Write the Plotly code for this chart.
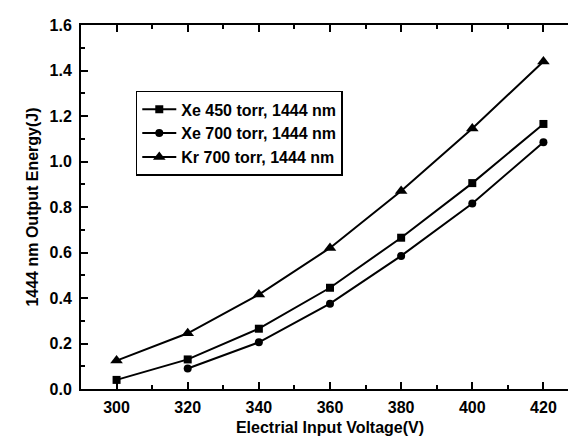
import plotly.graph_objects as go

x_vals = [300, 320, 340, 360, 380, 400, 420]
xe450 = [0.04, 0.13, 0.265, 0.445, 0.665, 0.905, 1.165]
xe700_x = [320, 340, 360, 380, 400, 420]
xe700 = [0.09, 0.205, 0.375, 0.585, 0.815, 1.085]
kr700 = [0.125, 0.245, 0.415, 0.62, 0.87, 1.145, 1.44]

names = ["Xe 450 torr, 1444 nm", "Xe 700 torr, 1444 nm", "Kr 700 torr, 1444 nm"]
xticks = [300, 320, 340, 360, 380, 400, 420]
yticks = [0.0, 0.2, 0.4, 0.6, 0.8, 1.0, 1.2, 1.4, 1.6]

fig = go.Figure()
fig.add_trace(go.Scatter(x=x_vals, y=xe450, name=names[0], mode="lines+markers",
                         line=dict(color="black", width=2),
                         marker=dict(symbol="square", size=8, color="black")))
fig.add_trace(go.Scatter(x=xe700_x, y=xe700, name=names[1], mode="lines+markers",
                         line=dict(color="black", width=2),
                         marker=dict(symbol="circle", size=8, color="black")))
fig.add_trace(go.Scatter(x=x_vals, y=kr700, name=names[2], mode="lines+markers",
                         line=dict(color="black", width=2),
                         marker=dict(symbol="triangle-up", size=11, color="black")))

FAM = "Liberation Sans, Arial"
axis_common = dict(showline=True, linecolor="black", linewidth=2, mirror="allticks",
                   ticks="inside", ticklen=7, tickwidth=2, tickcolor="black",
                   showgrid=False, zeroline=False,
                   tickfont=dict(family=FAM, size=16, color="black", weight="bold"),
                   minor=dict(ticks="inside", ticklen=4, tickwidth=2, tickcolor="black"))

fig.update_layout(
    width=576, height=438,
    margin=dict(l=73, r=3, t=17, b=57),
    paper_bgcolor="white", plot_bgcolor="white",
    xaxis=dict(range=[290, 430], tickvals=xticks, ticktext=[str(v) for v in xticks],
               ticklabelstandoff=3,
               title=dict(text="Electrial Input Voltage(V)", standoff=7,
                          font=dict(family=FAM, size=16, color="black", weight="bold")),
               **axis_common),
    yaxis=dict(range=[0, 1.6], tickvals=yticks, ticktext=[f"{v:.1f}" for v in yticks],
               ticklabelstandoff=4,
               title=dict(text="1444 nm Output Energy(J)", standoff=7,
                          font=dict(family=FAM, size=16, color="black", weight="bold")),
               **axis_common),
    legend=dict(x=0.11, y=0.819, xanchor="left", yanchor="top",
                bordercolor="black", borderwidth=1.5, bgcolor="white",
                font=dict(family=FAM, size=16, color="black", weight="bold"),
                tracegroupgap=0, itemwidth=34),
    showlegend=True,
)
fig.update_xaxes(minor=dict(dtick=10, tick0=290))
fig.update_yaxes(minor=dict(dtick=0.1, tick0=0))

fig.write_html("out.html")
